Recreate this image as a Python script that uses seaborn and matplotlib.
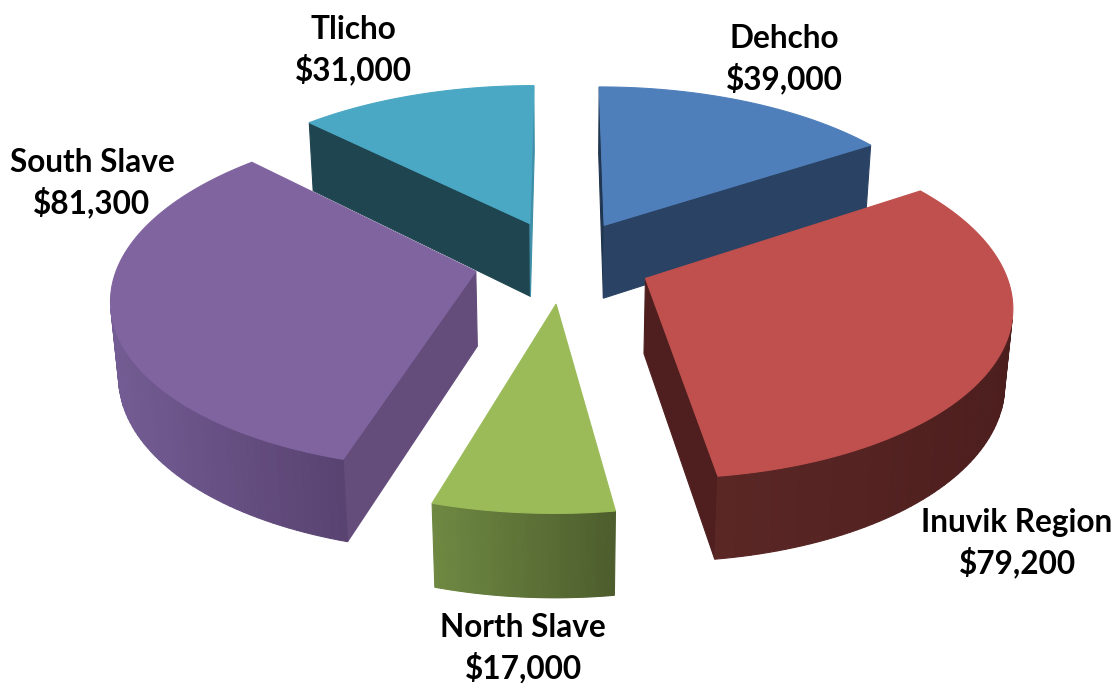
import numpy as np
import matplotlib
matplotlib.use("Agg")
import matplotlib.pyplot as plt
from matplotlib.patches import Polygon
import seaborn as sns

# Regional amounts, clockwise from twelve o'clock
regions = ["Dehcho", "Inuvik Region", "North Slave", "South Slave", "Tlicho"]
amounts = [39000, 79200, 17000, 81300, 31000]

top_colors = ["#4F7FBB", "#BF504D", "#9BBB59", "#8064A0", "#4BA8C4"]
start_face = ["#1F3550", "#4F1F1F", "#4F5F2E", "#644C7B", "#1F4650"]
end_face = ["#2A4263", "#4F1F1F", "#4F5F2E", "#644C7B", "#3F8FA8"]
rim_light = ["#2A4263", "#5A2725", "#6E8842", "#735C93", "#1F4650"]
rim_dark = ["#2A4263", "#4D1E1E", "#4C5C2C", "#584270", "#1F4650"]
label_xy = [(784, 59), (1017, 543), (523, 648), (92, 183), (353, 50)]

# Projection of the 3-D pie
CX, CY = 563.0, 261.0
FOCAL, DIST = 2265.0, 6.35
TILT = np.radians(27.9)
EXPLODE = 0.25
THICK = 0.24
SIN_T, COS_T = np.sin(TILT), np.cos(TILT)


def project(px, py, pz):
    depth = DIST + py * COS_T - pz * SIN_T
    up = py * SIN_T + pz * COS_T
    return np.column_stack([CX + FOCAL * px / depth, CY - FOCAL * up / depth])


def faces_viewer(nx, ny, px, py):
    # Camera sits in front of the pie on the -y side, so test the side's normal against it
    return nx * (-px) + ny * (-DIST * COS_T - py) > 0


sns.set_theme(style="white")
plt.rcParams["font.family"] = ["Lato", "DejaVu Sans"]
fig, ax = plt.subplots(figsize=(11.15, 6.83), dpi=100)
ax.set_position([0, 0, 1, 1])
ax.set_xlim(0, 1115)
ax.set_ylim(683, 0)
ax.axis("off")


def fill(points, color, z):
    ax.add_patch(Polygon(points, closed=True, facecolor=color, edgecolor=color,
                         linewidth=0.8, zorder=z))


fractions = np.asarray(amounts, dtype=float) / np.sum(amounts)
edges = np.concatenate([[0.0], np.cumsum(fractions)]) * 2 * np.pi
mids = (edges[:-1] + edges[1:]) / 2

# Painter's order: wedges whose offset points away from the viewer go first
order = np.argsort(-np.cos(mids))
for rank, i in enumerate(order):
    base = 10 * (rank + 1)
    ox, oy = EXPLODE * np.sin(mids[i]), EXPLODE * np.cos(mids[i])
    theta = np.linspace(edges[i], edges[i + 1], 90)
    rx, ry = ox + np.sin(theta), oy + np.cos(theta)
    top_rim = project(rx, ry, np.zeros_like(rx))
    low_rim = project(rx, ry, np.full_like(rx, -THICK))
    top_apex = project(np.array([ox]), np.array([oy]), np.array([0.0]))
    low_apex = project(np.array([ox]), np.array([oy]), np.array([-THICK]))

    # Radial side faces, skipping those turned away
    a, b = theta[0], theta[-1]
    sides = ((0, start_face[i], -np.cos(a), np.sin(a)),
             (-1, end_face[i], np.cos(b), -np.sin(b)))
    for k, color, nx, ny in sides:
        if faces_viewer(nx, ny, ox, oy):
            quad = np.vstack([top_apex, top_rim[k], low_rim[k], low_apex])
            fill(quad, color, base + 1)

    # Rim shaded from left to right in screen space
    shades = sns.blend_palette([rim_light[i], rim_dark[i]], 40)
    xs = top_rim[:, 0]
    span = max(xs.max() - xs.min(), 1.0)
    for k in range(len(theta) - 1):
        m = 0.5 * (theta[k] + theta[k + 1])
        if not faces_viewer(np.sin(m), np.cos(m), ox + np.sin(m), oy + np.cos(m)):
            continue
        t = (0.5 * (xs[k] + xs[k + 1]) - xs.min()) / span
        quad = np.vstack([top_rim[k], top_rim[k + 1], low_rim[k + 1], low_rim[k]])
        fill(quad, shades[int(t * 39)], base + 2)

    fill(np.vstack([top_apex, top_rim]), top_colors[i], base + 3)

for name, value, (lx, ly) in zip(regions, amounts, label_xy):
    ax.text(lx, ly, f"{name}\n${value:,}", ha="center", va="center",
            fontsize=22.7, fontweight="bold", color="black", linespacing=1.36,
            zorder=100)

fig.savefig("out.png", dpi=100, facecolor="white")
